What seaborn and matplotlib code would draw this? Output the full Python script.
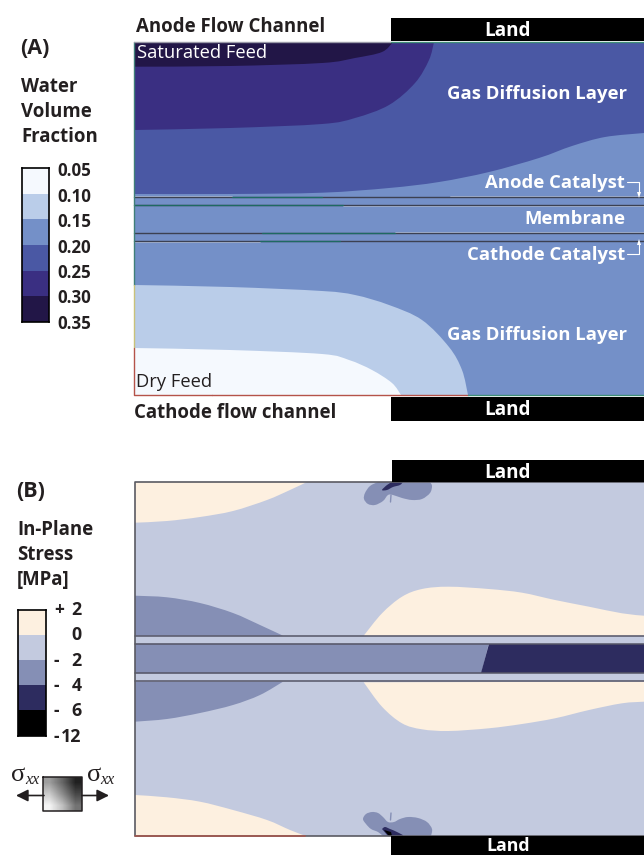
import numpy as np
import pandas as pd
import matplotlib
matplotlib.use('Agg')
import matplotlib.pyplot as plt
from matplotlib.colors import ListedColormap
from matplotlib.patches import PathPatch
from matplotlib.path import Path
import seaborn as sns

sns.set_theme(style='white')
plt.rcParams['font.family'] = ['Open Sans', 'DejaVu Sans']

# ---- colour bar values ----
water_levels = [0.05, 0.10, 0.15, 0.20, 0.25, 0.30, 0.35]
water_colors = ['#F5F9FE', '#BACDE9', '#7490C8', '#4A58A4', '#3A2F82', '#221647']
stress_signs = ['+', '', '-', '-', '-', '-']
stress_numbers = ['2', '0', '2', '4', '6', '12']
stress_colors = ['#FDF0E0', '#C3CADF', '#858FB5', '#2D2C5F', '#000000']

# ---- panel A contour boundaries (x along channel, y down the section) ----
a_gdl_x = [134, 230, 322, 389, 439, 489, 539, 572, 605, 644]
a_gdl_y = [194, 194, 192.7, 188, 182, 172, 158, 146, 137, 133]
a_purple_x = [134, 230, 322, 355, 389, 415, 429, 434]
a_purple_y = [130, 128, 124, 118, 105, 83, 60, 42]
a_dark_x = [134, 230, 322, 355, 382, 393]
a_dark_y = [66.7, 66, 63, 58, 52, 42]
a_light_x = [134, 230, 322, 355, 389, 422, 449, 462, 468]
a_light_y = [285, 287, 291, 295, 305, 320, 347, 370, 395]
a_white_x = [134, 230, 322, 349, 372, 392, 401]
a_white_y = [348, 350, 354, 360, 370, 383, 395]

# ---- panel B contour boundaries ----
b_cream_top_x = [135, 167, 200, 233, 267, 290, 307]
b_cream_top_y = [522.7, 521, 517, 511, 500, 490, 482]
b_cream_bot_x = [135, 167, 200, 233, 267, 290, 305]
b_cream_bot_y = [795, 797.3, 801.7, 810, 820, 830, 835.7]
b_mid_up_x = [135, 167, 200, 233, 260, 283]
b_mid_up_y = [595.7, 597.3, 603, 613, 625, 635.7]
b_mid_lo_x = [135, 167, 200, 233, 260, 283]
b_mid_lo_y = [721.7, 719, 713, 705, 695, 681.7]
b_cream_cu_x = [363.7, 382, 402, 422, 448.7, 488.7, 522, 555, 589, 622, 644]
b_cream_cu_y = [635.7, 613.3, 596.7, 589, 586.7, 589, 592.7, 600, 606.7, 613.3, 615.7]
b_cream_cl_x = [363.7, 382, 402, 422, 448.7, 488.7, 522, 555, 589, 622, 644]
b_cream_cl_y = [682.3, 706.7, 723.3, 729.3, 731, 728.3, 724, 718.3, 710, 703.3, 701.7]
b_blob_top_x = [378, 370, 365, 364, 368, 375, 383, 388, 393, 402, 412, 422, 430, 432, 430]
b_blob_top_y = [482, 486, 493, 499, 504, 505, 501, 495, 495, 498, 500, 499, 493, 486, 482]
b_core_top_x = [392, 387, 382, 387, 393, 400, 403]
b_core_top_y = [482, 485, 490, 490, 487, 485, 482]
b_blob_bot_x = [383, 378, 371, 366, 363, 366, 372, 378, 383, 388, 394, 400, 408, 418, 427, 432, 431]
b_blob_bot_y = [836, 832, 829, 824, 819, 814, 812, 813, 817, 822, 822, 819, 817, 818, 822, 829, 836]
b_core_bot_x = [382, 385, 390, 397, 403, 388]
b_core_bot_y = [829, 827, 829, 832, 836, 836]
b_black_bot_x = [384, 391, 392, 389]
b_black_bot_y = [830, 832, 836, 836]

a_layer_y = [196.7, 205, 232.7, 241]
b_layer_y = [635.7, 643.7, 673.3, 681.3]


def smooth_fill(ax, xs, ys, close_x, close_y, color, zorder=2):
    # curve through the read points, then straight edges back to the start
    pts = np.column_stack([xs, ys])
    ext = np.vstack([pts[0], pts, pts[-1]])
    verts = [pts[0]]
    codes = [Path.MOVETO]
    for i in range(1, len(ext) - 2):
        c1 = ext[i] + (ext[i + 1] - ext[i - 1]) / 6
        c2 = ext[i + 1] - (ext[i + 2] - ext[i]) / 6
        verts += [c1, c2, ext[i + 1]]
        codes += [Path.CURVE4] * 3
    for p in zip(close_x, close_y):
        verts.append(p)
        codes.append(Path.LINETO)
    verts.append(pts[0])
    codes.append(Path.CLOSEPOLY)
    ax.add_patch(PathPatch(Path(verts, codes), facecolor=color, edgecolor='none', lw=0, zorder=zorder))


def colour_bar(fig, x0, y0, x1, y1, colors):
    # one column heatmap standing in for the contour key
    key = pd.DataFrame({'level': np.arange(len(colors))})
    cax = fig.add_axes([x0 / 644, 1 - y1 / 855, (x1 - x0) / 644, (y1 - y0) / 855])
    sns.heatmap(key, cmap=ListedColormap(colors), cbar=False, xticklabels=False,
                yticklabels=False, ax=cax, linewidths=0)
    for s in cax.spines.values():
        s.set_visible(True)
        s.set_color('black')
        s.set_linewidth(1.2)
    cax.set_xlabel('')
    cax.set_ylabel('')


fig = plt.figure(figsize=(6.44, 8.55), dpi=100)
ax = fig.add_axes([0, 0, 1, 1])
ax.set_xlim(0, 644)
ax.set_ylim(855, 0)
ax.axis('off')

# panel A
ax.fill([134, 644, 644, 134], [42, 42, 395, 395], color=water_colors[2], lw=0, zorder=1)
smooth_fill(ax, a_gdl_x, a_gdl_y, [644, 134], [42, 42], water_colors[3])
smooth_fill(ax, a_purple_x, a_purple_y, [134], [42], water_colors[4], 3)
smooth_fill(ax, a_dark_x, a_dark_y, [134], [42], water_colors[5], 4)
smooth_fill(ax, a_light_x, a_light_y, [134], [395], water_colors[1], 3)
smooth_fill(ax, a_white_x, a_white_y, [134], [395], water_colors[0], 4)
lines = pd.DataFrame({'x': [134, 644] * 4, 'y': np.repeat(a_layer_y, 2), 'l': np.repeat(range(4), 2)})
sns.lineplot(data=lines, x='x', y='y', units='l', estimator=None, color='#3C4152', lw=1.0, ax=ax, zorder=6)
for y, x0, x1 in [(197, 232, 322), (205, 134, 343), (233, 262, 395), (241, 260, 340)]:
    ax.plot([x0, x1], [y, y], color='#1F6A62', lw=0.9, zorder=7)
for y, x0, x1 in [(195.8, 134, 232), (195.8, 450, 644), (206, 343, 644), (231.6, 395, 644), (242, 134, 260)]:
    ax.plot([x0, x1], [y, y], color='#C9D4EA', lw=0.5, zorder=5)
ax.plot([134, 134], [42, 285], color='#3F7F78', lw=1.0, zorder=7)
ax.plot([134, 134], [285, 348], color='#C9C27A', lw=1.0, zorder=7)
ax.plot([134, 134, 212], [348, 395, 395], color='#B5534A', lw=1.0, zorder=7)
ax.plot([212, 468], [395, 395], color='#B5534A', lw=1.0, zorder=7)
ax.plot([468, 644], [395, 395], color='#3F8F78', lw=1.0, zorder=7)
ax.plot([390, 644], [42, 42], color='#3F8F78', lw=1.0, zorder=7)
ax.plot([134, 390], [42, 42], color='#9A9AA8', lw=1.0, zorder=7)

# panel B
ax.fill([135, 644, 644, 135], [482, 482, 835.7, 835.7], color=stress_colors[1], lw=0, zorder=1)
smooth_fill(ax, b_cream_top_x, b_cream_top_y, [135], [482], stress_colors[0])
smooth_fill(ax, b_cream_bot_x, b_cream_bot_y, [135], [835.7], stress_colors[0])
smooth_fill(ax, b_mid_up_x, b_mid_up_y, [135], [635.7], stress_colors[2])
smooth_fill(ax, b_mid_lo_x, b_mid_lo_y, [135], [681.7], stress_colors[2])
smooth_fill(ax, b_cream_cu_x, b_cream_cu_y, [644], [635.7], stress_colors[0])
smooth_fill(ax, b_cream_cl_x, b_cream_cl_y, [644], [681.7], stress_colors[0])
ax.fill([135, 488.7, 481.3, 135], [643.7, 643.7, 673.3, 673.3], color=stress_colors[2], lw=0, zorder=2)
ax.fill([488.7, 644, 644, 481.3], [643.7, 643.7, 673.3, 673.3], color=stress_colors[3], lw=0, zorder=2)
smooth_fill(ax, b_blob_top_x, b_blob_top_y, [], [], stress_colors[2], 3)
smooth_fill(ax, b_core_top_x, b_core_top_y, [], [], stress_colors[3], 4)
smooth_fill(ax, b_blob_bot_x, b_blob_bot_y, [], [], stress_colors[2], 3)
smooth_fill(ax, b_core_bot_x, b_core_bot_y, [], [], stress_colors[3], 4)
ax.fill(b_black_bot_x, b_black_bot_y, color='black', lw=0, zorder=5)
ax.plot([391, 390.5], [495, 502], color=stress_colors[2], lw=1.0, zorder=4)
ax.plot([391, 390.5], [813, 820], color=stress_colors[2], lw=1.0, zorder=4)
lines = pd.DataFrame({'x': [135, 644] * 4, 'y': np.repeat(b_layer_y, 2), 'l': np.repeat(range(4), 2)})
sns.lineplot(data=lines, x='x', y='y', units='l', estimator=None, color='#555566', lw=1.1, ax=ax, zorder=6)
ax.plot([644, 135, 135, 644], [482, 482, 835.7, 835.7], color='#5A5A62', lw=1.2, zorder=7)
ax.plot([135, 305], [835.7, 835.7], color='#A5584F', lw=1.2, zorder=8)

# land bars, the last one sits on the bottom edge of the picture
for x0, y0, y1, ty, fs in [(391, 18, 41, 30.5, 13.6), (391, 397, 421, 409.5, 13.6),
                           (392, 460, 482, 473, 13.6), (391, 836, 855, 845.5, 12.8)]:
    ax.fill([x0, 644, 644, x0], [y0, y0, y1, y1], color='black', lw=0, zorder=9)
    ax.text(508, ty, 'Land', color='white', fontsize=fs, fontweight='bold', ha='center', va='center', zorder=10)

# panel text
dark = '#231F20'
ax.text(136, 27, 'Anode Flow Channel', fontsize=13.4, fontweight='bold', color=dark, va='center')
ax.text(134, 413, 'Cathode flow channel', fontsize=13.4, fontweight='bold', color=dark, va='center')
ax.text(20, 48, '(A)', fontsize=15.5, fontweight='bold', color=dark, va='center')
ax.text(16, 491, '(B)', fontsize=15.5, fontweight='bold', color=dark, va='center')
for t, y in zip(['Water', 'Volume', 'Fraction'], [87, 112, 137]):
    ax.text(21, y, t, fontsize=13.4, fontweight='bold', color=dark, va='center')
for t, y in zip(['In-Plane', 'Stress', '[MPa]'], [530, 555, 580]):
    ax.text(17, y, t, fontsize=13.4, fontweight='bold', color=dark, va='center')
ax.text(137, 53.5, 'Saturated Feed', fontsize=13.2, color='white', va='center', zorder=8)
ax.text(136, 381.5, 'Dry Feed', fontsize=13.2, color=dark, va='center', zorder=8)
for t, xr, y in [('Gas Diffusion Layer', 627, 94), ('Anode Catalyst', 625, 183),
                 ('Membrane', 625, 219), ('Cathode Catalyst', 625, 255), ('Gas Diffusion Layer', 627, 335)]:
    ax.text(xr, y, t, fontsize=13.3, fontweight='bold', color='white', ha='right', va='center', zorder=8)

# catalyst pointers
ax.plot([627, 639, 639], [182, 182, 192], color='white', lw=0.8, zorder=8)
ax.plot([627, 639, 639], [254, 254, 244], color='white', lw=0.8, zorder=8)
ax.fill([637, 641, 639], [192, 192, 198], color='white', lw=0, zorder=8)
ax.fill([637, 641, 639], [245, 245, 239], color='white', lw=0, zorder=8)

# colour keys
colour_bar(fig, 21.7, 168, 49.3, 322, water_colors)
for v, y in zip(water_levels, [171, 196.5, 221.5, 247.5, 272.5, 297.5, 323.5]):
    ax.text(57, y, f'{v:.2f}', fontsize=12.2, fontweight='bold', color=dark, va='center')
colour_bar(fig, 18, 610, 46, 735.5, stress_colors)
for s, n, y in zip(stress_signs, stress_numbers, [610, 635, 661, 686, 711, 737]):
    ax.text(54, y, s, fontsize=12.5, fontweight='bold', color=dark, va='center')
    ax.text(81.5, y, n, fontsize=12.8, fontweight='bold', color=dark, va='center', ha='right')

# stress element
ax.imshow([[0.62, 0.4, 0.13], [0.8, 0.55, 0.28], [0.96, 0.75, 0.45]], cmap='gray', vmin=0, vmax=1,
          interpolation='bilinear', extent=[43.5, 82.5, 811, 777], zorder=3, aspect='auto')
ax.set_xlim(0, 644)
ax.set_ylim(855, 0)
ax.plot([43.5, 82.5, 82.5, 43.5, 43.5], [777, 777, 811, 811, 777], color=dark, lw=1.1, zorder=4)
ax.annotate('', xy=(16, 795.5), xytext=(44, 795.5),
            arrowprops=dict(arrowstyle='-|>', color=dark, lw=1.2, mutation_scale=18, shrinkA=0, shrinkB=0))
ax.annotate('', xy=(109, 795.5), xytext=(82, 795.5),
            arrowprops=dict(arrowstyle='-|>', color=dark, lw=1.2, mutation_scale=18, shrinkA=0, shrinkB=0))
for x in [11.5, 87]:
    ax.text(x, 775, 'σ', family='Liberation Serif', fontsize=19, color=dark, va='center')
    ax.text(x + 13.5, 780, 'xx', family='Liberation Serif', style='italic', fontsize=11.5, color=dark, va='center')

fig.savefig('out.png', dpi=100)
